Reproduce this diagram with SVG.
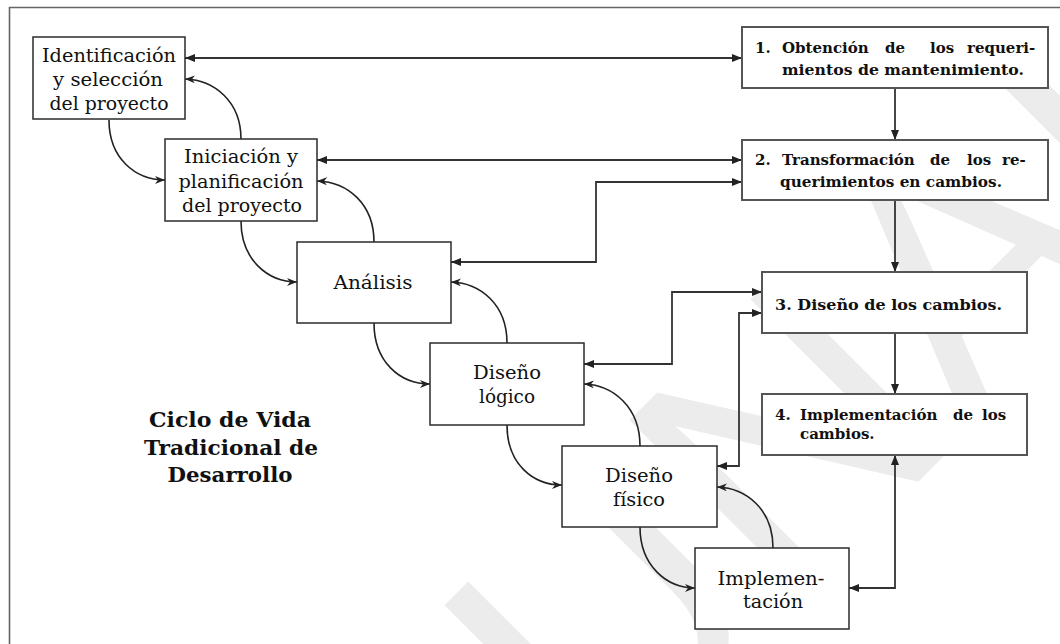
<svg xmlns="http://www.w3.org/2000/svg" width="1060" height="644" viewBox="0 0 1060 644">
  <style>
    .node rect { fill: #ffffff; stroke: #2b2b2b; stroke-width: 1.5; }
    .step rect { fill: #ffffff; stroke: #555555; stroke-width: 2; }
    .lbl { font-family: "DejaVu Serif", "Liberation Serif", serif; font-size: 18px; fill: #111111; text-anchor: middle; }
    .stp { font-family: "DejaVu Serif", "Liberation Serif", serif; font-size: 15px; font-weight: bold; fill: #111111; }
    .ttl { font-family: "DejaVu Serif", "Liberation Serif", serif; font-size: 21px; font-weight: bold; fill: #111111; text-anchor: middle; }
    .link { fill: none; stroke: #333333; stroke-width: 1.8; }
    .curve { fill: none; stroke: #222222; stroke-width: 1.6; }
    .mark { font-family: "Liberation Sans", Arial, sans-serif; font-size: 360px; fill: #ececec; }
  </style>
  <defs>
    <marker id="tri" viewBox="0 0 10 8" refX="10" refY="4" markerWidth="10" markerHeight="8" markerUnits="userSpaceOnUse" orient="auto-start-reverse">
      <path d="M0,0 L10,4 L0,8 z" fill="#222222"/>
    </marker>
    <marker id="barb" viewBox="0 0 10 8" refX="10" refY="4" markerWidth="10" markerHeight="8" markerUnits="userSpaceOnUse" orient="auto">
      <path d="M0,0 L10,4 L0,8 L3,4 z" fill="#222222"/>
    </marker>
  </defs>

  <!-- page background and frame -->
  <rect x="0" y="0" width="1060" height="644" fill="#ffffff"/>
  <path d="M9.5,644 V7.5 H1060" fill="none" stroke="#666666" stroke-width="1.6"/>

  <!-- watermark -->
  <text class="mark" transform="translate(600,800) rotate(-45)">UNAH</text>

  <!-- connectors -->
  <g id="connectors">
    <!-- waterfall cascade -->
    <path class="curve" d="M109,120 C109,158 135,180 165,180" marker-end="url(#barb)"/>
    <path class="curve" d="M241,139 C241,102 215,80 185,79" marker-end="url(#barb)"/>
    <path class="curve" d="M241,221 C241,260 268,282 297,282" marker-end="url(#barb)"/>
    <path class="curve" d="M374,242 C374,204 348,182 317,181" marker-end="url(#barb)"/>
    <path class="curve" d="M374,323 C374,362 400,384 430,384" marker-end="url(#barb)"/>
    <path class="curve" d="M507,343 C507,304 480,283 451,282" marker-end="url(#barb)"/>
    <path class="curve" d="M507,425 C507,464 533,485 562,485" marker-end="url(#barb)"/>
    <path class="curve" d="M640,446 C640,407 613,385 584,384" marker-end="url(#barb)"/>
    <path class="curve" d="M640,527 C640,566 667,588 695,588" marker-end="url(#barb)"/>
    <path class="curve" d="M773,548 C773,509 746,488 717,487" marker-end="url(#barb)"/>
    <!-- maintenance links -->
    <path class="link" d="M185,58 H742" marker-start="url(#tri)" marker-end="url(#tri)"/>
    <path class="link" d="M317,160 H742" marker-start="url(#tri)" marker-end="url(#tri)"/>
    <path class="link" d="M742,182 H596 V262 H451" marker-start="url(#tri)" marker-end="url(#tri)"/>
    <path class="link" d="M762,292 H672 V364 H584" marker-start="url(#tri)" marker-end="url(#tri)"/>
    <path class="link" d="M762,313 H739 V466 H717" marker-start="url(#tri)" marker-end="url(#tri)"/>
    <path class="link" d="M849,588 H895 V455" marker-start="url(#tri)" marker-end="url(#tri)"/>
    <path class="link" d="M895,88 V140" marker-end="url(#tri)"/>
    <path class="link" d="M895,200 V272" marker-end="url(#tri)"/>
    <path class="link" d="M895,333 V394" marker-end="url(#tri)"/>
  </g>

  <!-- traditional life cycle -->
  <g id="identificacion" class="node">
    <rect x="33" y="37" width="152" height="82"/>
    <text class="lbl" x="109" y="62" textLength="134" lengthAdjust="spacingAndGlyphs">Identificación</text>
    <text class="lbl" x="108" y="86" textLength="110" lengthAdjust="spacingAndGlyphs">y selección</text>
    <text class="lbl" x="109" y="110" textLength="119" lengthAdjust="spacingAndGlyphs">del proyecto</text>
  </g>
  <g id="iniciacion" class="node">
    <rect x="165" y="139" width="152" height="82"/>
    <text class="lbl" x="241" y="163" textLength="114" lengthAdjust="spacingAndGlyphs">Iniciación y</text>
    <text class="lbl" x="241" y="188" textLength="125" lengthAdjust="spacingAndGlyphs">planificación</text>
    <text class="lbl" x="242" y="212" textLength="120" lengthAdjust="spacingAndGlyphs">del proyecto</text>
  </g>
  <g id="analisis" class="node">
    <rect x="297" y="242" width="154" height="81"/>
    <text class="lbl" x="373" y="289" textLength="79" lengthAdjust="spacingAndGlyphs">Análisis</text>
  </g>
  <g id="diseno-logico" class="node">
    <rect x="430" y="343" width="154" height="82"/>
    <text class="lbl" x="507" y="379" textLength="68" lengthAdjust="spacingAndGlyphs">Diseño</text>
    <text class="lbl" x="507" y="403" textLength="56" lengthAdjust="spacingAndGlyphs">lógico</text>
  </g>
  <g id="diseno-fisico" class="node">
    <rect x="562" y="446" width="155" height="81"/>
    <text class="lbl" x="639" y="482" textLength="68" lengthAdjust="spacingAndGlyphs">Diseño</text>
    <text class="lbl" x="639" y="506" textLength="52" lengthAdjust="spacingAndGlyphs">físico</text>
  </g>
  <g id="implementacion" class="node">
    <rect x="695" y="548" width="154" height="81"/>
    <text class="lbl" x="771" y="585" textLength="107" lengthAdjust="spacingAndGlyphs">Implemen-</text>
    <text class="lbl" x="773" y="608" textLength="60" lengthAdjust="spacingAndGlyphs">tación</text>
  </g>

  <!-- maintenance steps -->
  <g id="paso1" class="step">
    <rect x="742" y="27" width="306" height="61"/>
    <text class="stp" y="53"><tspan x="755">1.</tspan><tspan x="782">Obtención</tspan><tspan x="885">de</tspan><tspan x="930">los</tspan><tspan x="967">requeri-</tspan></text>
    <text class="stp" x="782" y="75" textLength="242" lengthAdjust="spacingAndGlyphs">mientos de mantenimiento.</text>
  </g>
  <g id="paso2" class="step">
    <rect x="742" y="140" width="306" height="60"/>
    <text class="stp" y="165"><tspan x="755">2.</tspan><tspan x="782">Transformación</tspan><tspan x="930">de</tspan><tspan x="967">los</tspan><tspan x="1002">re-</tspan></text>
    <text class="stp" x="780" y="187" textLength="222" lengthAdjust="spacingAndGlyphs">querimientos en cambios.</text>
  </g>
  <g id="paso3" class="step">
    <rect x="762" y="272" width="265" height="61"/>
    <text class="stp" x="775" y="310" textLength="227" lengthAdjust="spacingAndGlyphs">3. Diseño de los cambios.</text>
  </g>
  <g id="paso4" class="step">
    <rect x="762" y="394" width="265" height="61"/>
    <text class="stp" y="420"><tspan x="775">4.</tspan><tspan x="800">Implementación</tspan><tspan x="953">de</tspan><tspan x="982">los</tspan></text>
    <text class="stp" x="800" y="439">cambios.</text>
  </g>

  <!-- title -->
  <g id="titulo">
    <text class="ttl" x="230" y="427" textLength="162" lengthAdjust="spacingAndGlyphs">Ciclo de Vida</text>
    <text class="ttl" x="231" y="455" textLength="174" lengthAdjust="spacingAndGlyphs">Tradicional de</text>
    <text class="ttl" x="230" y="482" textLength="125" lengthAdjust="spacingAndGlyphs">Desarrollo</text>
  </g>
</svg>
